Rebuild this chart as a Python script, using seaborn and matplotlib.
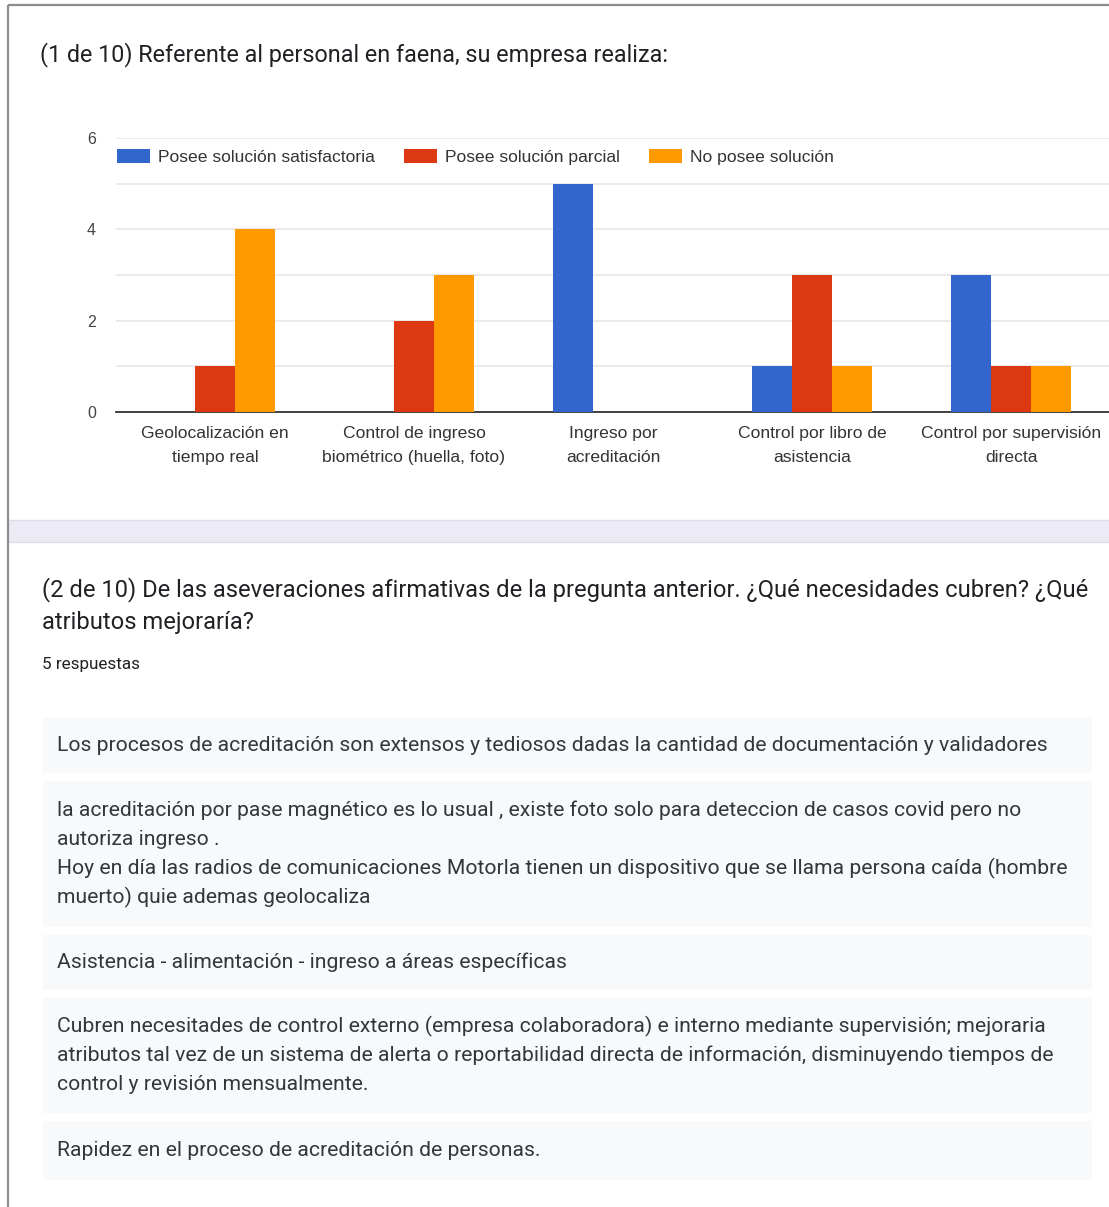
import matplotlib
matplotlib.use("Agg")
import matplotlib.pyplot as plt
import seaborn as sns
import pandas as pd
from matplotlib.patches import Rectangle, Patch

# ---------------- data ----------------
categories = [
    "Geolocalización en\ntiempo real",
    "Control de ingreso\nbiométrico (huella, foto)",
    "Ingreso por\nacreditación",
    "Control por libro de\nasistencia",
    "Control por supervisión\ndirecta",
]
series_names = ["Posee solución satisfactoria", "Posee solución parcial", "No posee solución"]
satisfactoria = [0, 0, 5, 1, 3]
parcial = [1, 2, 0, 3, 1]
no_posee = [4, 3, 0, 1, 1]
series_colors = ["#3366cc", "#dc3912", "#ff9900"]
y_tick_values = [0, 2, 4, 6]

title1 = "(1 de 10) Referente al personal en faena, su empresa realiza:"
title2_lines = [
    "(2 de 10) De las aseveraciones afirmativas de la pregunta anterior. ¿Qué necesidades cubren? ¿Qué",
    "atributos mejoraría?",
]
respuestas_label = "5 respuestas"
responses = [
    ["Los procesos de acreditación son extensos y tediosos dadas la cantidad de documentación y validadores"],
    ["la acreditación por pase magnético es lo usual , existe foto solo para deteccion de casos covid pero no",
     "autoriza ingreso .",
     "Hoy en día las radios de comunicaciones Motorla tienen un dispositivo que se llama persona caída (hombre",
     "muerto) quie ademas geolocaliza"],
    ["Asistencia - alimentación - ingreso a áreas específicas"],
    ["Cubren necesitades de control externo (empresa colaboradora) e interno mediante supervisión; mejoraria",
     "atributos tal vez de un sistema de alerta o reportabilidad directa de información, disminuyendo tiempos de",
     "control y revisión mensualmente."],
    ["Rapidez en el proceso de acreditación de personas."],
]

# ---------------- figure ----------------
sns.set_theme(style="white")
plt.rcParams["font.family"] = ["Roboto", "DejaVu Sans"]

W, H = 1109, 1207
fig = plt.figure(figsize=(W / 100, H / 100), dpi=100)
fig.patch.set_facecolor("white")

bg = fig.add_axes([0, 0, 1, 1], zorder=0)
bg.set_xlim(0, W)
bg.set_ylim(H, 0)
bg.axis("off")

# borders
bg.plot([8, 8], [5, H], color="#8c8c8c", lw=1.6, solid_capstyle="butt")
bg.plot([8, W], [5, 5], color="#8c8c8c", lw=1.6, solid_capstyle="butt")
# separator band
bg.add_patch(Rectangle((9, 520), W - 9, 22, facecolor="#ebeaf5", edgecolor="none"))
bg.plot([9, W], [520, 520], color="#dcdbe6", lw=1)
bg.plot([9, W], [542, 542], color="#dcdbe6", lw=1)

text_color = "#202124"
body_color = "#33363a"
bg.text(40, 55, title1, fontsize=16.8, color=text_color, va="center", ha="left")

bg.text(42, 590, title2_lines[0], fontsize=17.1, color=text_color, va="center", ha="left")
bg.text(42, 623, title2_lines[1], fontsize=17.1, color=text_color, va="center", ha="left")
bg.text(42, 664, respuestas_label, fontsize=12.3, color=text_color, va="center", ha="left")

box_spans = [(718, 773), (781, 927), (935, 990), (998, 1113), (1121, 1180)]
line_step = 29
for (top, bottom), lines in zip(box_spans, responses):
    bg.add_patch(Rectangle((43, top), 1049, bottom - top, facecolor="#f8f9fa", edgecolor="none"))
    n = len(lines)
    mid = (top + bottom) / 2
    start = mid - (n - 1) * line_step / 2
    for i, ln in enumerate(lines):
        bg.text(57, start + i * line_step, ln, fontsize=15.2, color=body_color, va="center", ha="left")

# ---------------- bar chart ----------------
df = pd.DataFrame({
    "categoria": categories * 3,
    "serie": [series_names[0]] * 5 + [series_names[1]] * 5 + [series_names[2]] * 5,
    "valor": satisfactoria + parcial + no_posee,
})

ax = fig.add_axes([115.5 / W, 1 - 412 / H, 995 / W, 274 / H], zorder=1)
ax.patch.set_alpha(0)
sns.barplot(data=df, x="categoria", y="valor", hue="serie", hue_order=series_names,
            order=categories, palette=series_colors, saturation=1, width=0.605, gap=0,
            legend=False, ax=ax, zorder=3, linewidth=0)

ax.set_xlim(-0.5, 4.5)
ax.set_ylim(0, 6)
ax.set_yticks(y_tick_values)
ax.set_yticks([1, 3, 5], minor=True)
ax.grid(True, axis="y", which="both", color="#e6e6e6", lw=1.2, zorder=0)
ax.set_axisbelow(True)
for s in ["top", "left", "right"]:
    ax.spines[s].set_visible(False)
ax.spines["bottom"].set_color("#333333")
ax.spines["bottom"].set_linewidth(1.3)
ax.set_xlabel("")
ax.set_ylabel("")
ax.tick_params(axis="y", which="both", length=0, pad=14, labelsize=11.5, labelcolor="#444444")
ax.tick_params(axis="x", length=0, pad=10, labelsize=12.6, labelcolor="#333333")
for lab in ax.get_xticklabels():
    lab.set_linespacing(1.72)
    lab.set_family(["Liberation Sans", "DejaVu Sans"])
for lab in ax.get_yticklabels():
    lab.set_family(["Liberation Sans", "DejaVu Sans"])

handles = [Patch(facecolor=c, edgecolor="none", label=n) for c, n in zip(series_colors, series_names)]
leg = ax.legend(handles=handles, ncol=3, loc="center left", bbox_to_anchor=(0.0015, 0.93),
                frameon=False, borderpad=0, borderaxespad=0, handlelength=1.9,
                handleheight=0.85, handletextpad=0.45, columnspacing=1.65,
                prop={"family": ["Liberation Sans", "DejaVu Sans"], "size": 12.6})
for t in leg.get_texts():
    t.set_color("#333333")

fig.savefig("out.png", dpi=100)
